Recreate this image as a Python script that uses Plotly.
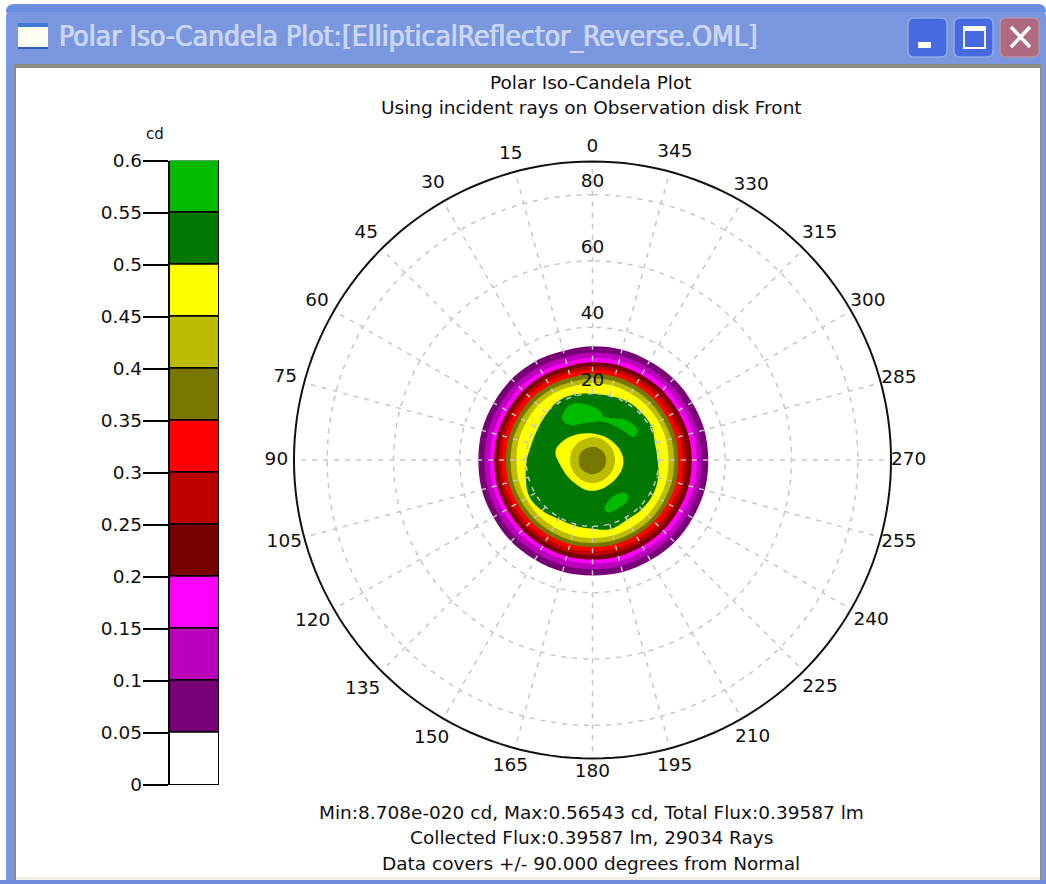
import plotly.graph_objects as go

W, H = 1046, 884

# ---------- data ----------
levels = [0, 0.05, 0.1, 0.15, 0.2, 0.25, 0.3, 0.35, 0.4, 0.45, 0.5, 0.55]
level_top = 0.6
tick_labels = ["0", "0.05", "0.1", "0.15", "0.2", "0.25", "0.3", "0.35", "0.4", "0.45", "0.5", "0.55", "0.6"]
level_colors = ["#ffffff", "#770077", "#bb00bb", "#ff00ff", "#770000", "#bb0000", "#ff0000",
                "#777700", "#bbbb00", "#ffff00", "#007700", "#00bb00"]

ring_theta = [0, 30, 60, 90, 120, 150, 180, 210, 240, 270, 300, 330]
ring_005 = [34.3, 34.4, 34.4, 34.4, 34.5, 34.7, 34.8, 34.9, 34.9, 34.9, 34.7, 34.4]
ring_010 = [32.4, 32.4, 32.5, 32.6, 32.7, 32.8, 32.9, 33.0, 33.0, 32.9, 32.7, 32.5]
ring_015 = [30.8, 30.8, 30.9, 30.9, 31.0, 31.1, 31.2, 31.3, 31.4, 31.4, 31.1, 30.9]
ring_020 = [29.5, 29.5, 29.5, 29.6, 29.7, 29.9, 30.0, 30.0, 30.0, 29.9, 29.7, 29.6]
ring_025 = [28.3, 28.3, 28.3, 28.4, 28.5, 28.6, 28.7, 28.7, 28.6, 28.4, 28.4, 28.3]
ring_030 = [27.2, 27.2, 27.3, 27.4, 27.4, 27.5, 27.5, 27.5, 27.4, 27.2, 27.1, 27.2]
ring_035 = [26.0, 26.0, 26.0, 26.1, 26.1, 26.2, 26.2, 26.2, 26.1, 25.9, 25.9, 26.0]
ring_040 = [24.6, 24.6, 24.6, 24.7, 24.8, 24.9, 25.0, 25.0, 24.8, 24.6, 24.5, 24.6]
ring_045 = [23.2, 23.2, 23.0, 22.9, 23.1, 23.3, 23.5, 23.5, 23.2, 22.9, 23.0, 23.1]

green_theta = [0, 15, 30, 45, 60, 75, 90, 105, 120, 135, 150, 165, 180, 195, 210, 225, 240,
               255, 270, 285, 300, 315, 330, 345]
green_r = [20.0, 20.5, 20.5, 19.6, 19.0, 19.0, 19.8, 20.8, 22.0, 21.5, 20.5, 20.5, 20.7, 21.5,
           20.8, 21.0, 21.0, 20.5, 19.6, 19.5, 20.5, 20.5, 20.5, 20.0]

blob1_theta = [34, 22.7, 9.7, 352, 344.5, 320, 303.5, 299, 319.5, 345, 14.8, 33.3, 36.6]
blob1_r = [16.3, 17.9, 17.2, 15.1, 13.5, 15.7, 16.3, 14.4, 12.5, 11.9, 11.4, 12.6, 14.9]
blob2_theta = [194, 209, 225.3, 221.5, 205.3, 196.3]
blob2_r = [14.9, 12.6, 14.2, 16.0, 16.6, 16.4]

core_yellow_theta = [75, 50.5, 0, 312, 270, 232, 180, 138, 96]
core_yellow_r = [11.5, 10.2, 8.0, 8.2, 9.3, 9.0, 9.3, 8.8, 10.0]
core_mid_theta = [0, 45, 90, 135, 180, 225, 270, 315]
core_mid_r = [6.9, 6.8, 6.8, 6.8, 6.9, 6.8, 6.8, 6.8]
core_olive_r = [4.0, 4.1, 4.2, 4.3, 4.3, 4.2, 4.1, 4.0]

angle_ticks = list(range(0, 360, 15))
angle_label_r = [94.1, 95.3, 96.2, 96.5, 95.9, 95.9, 95.3, 96.2, 97.4, 98.0, 97.0, 95.6,
                 94.1, 95.6, 96.5, 97.0, 97.0, 95.6, 95.3, 95.6, 95.9, 96.8, 95.6, 96.0]
radial_ticks = [20, 40, 60, 80]
radial_labels = ["20", "40", "60", "80"]
radial_label_r = [21, 41, 61, 81]
grid_theta = list(range(0, 361, 2))
spoke_r = [20, 89]
rim_r = 90
axis_range = [0, 100]

window_title = "Polar Iso-Candela Plot:[EllipticalReflector_Reverse.OML]"
plot_title = ["Polar Iso-Candela Plot", "Using incident rays on Observation disk Front"]
footer = ["Min:8.708e-020 cd, Max:0.56543 cd, Total Flux:0.39587 lm",
          "Collected Flux:0.39587 lm, 29034 Rays",
          "Data covers +/- 90.000 degrees from Normal"]

FONT = "DejaVu Sans"
TXT = "#101010"
FS = 18.5


def px(x):
    return x / W


def py(y):
    return 1 - y / H


fig = go.Figure()


def region(theta, r, color):
    fig.add_trace(go.Scatterpolar(theta=list(theta) + list(theta[:2]), r=list(r) + list(r[:2]), mode="lines",
                                  fill="toself", fillcolor=color,
                                  line=dict(width=0, shape="spline", smoothing=1.15),
                                  hoverinfo="skip", showlegend=False))


rings = [ring_005, ring_010, ring_015, ring_020, ring_025, ring_030, ring_035, ring_040, ring_045]
for ring, col in zip(rings, level_colors[1:10]):
    region(ring_theta, ring, col)
region(green_theta, green_r, level_colors[10])
region(blob1_theta, blob1_r, level_colors[11])
region(blob2_theta, blob2_r, level_colors[11])
region(core_yellow_theta, core_yellow_r, level_colors[9])
region(core_mid_theta, core_mid_r, level_colors[8])
region(core_mid_theta, core_olive_r, level_colors[7])

# dashed grid over the fills
GRID = dict(color="#c6c6c6", width=1.5, dash="5px,6px")
for rt in radial_ticks:
    fig.add_trace(go.Scatterpolar(theta=grid_theta, r=[rt] * len(grid_theta), mode="lines", line=GRID,
                                  hoverinfo="skip", showlegend=False))
for a in angle_ticks:
    fig.add_trace(go.Scatterpolar(theta=[a, a], r=spoke_r, mode="lines", line=GRID,
                                  hoverinfo="skip", showlegend=False))
# outer rim
fig.add_trace(go.Scatterpolar(theta=grid_theta, r=[rim_r] * len(grid_theta), mode="lines",
                              line=dict(color="#111111", width=2), hoverinfo="skip", showlegend=False))

fig.add_trace(go.Scatterpolar(theta=[0] * 4, r=radial_label_r, text=radial_labels, mode="text",
                              textposition="top center", textfont=dict(family=FONT, size=FS, color=TXT),
                              hoverinfo="skip", showlegend=False))
fig.add_trace(go.Scatterpolar(theta=angle_ticks, r=angle_label_r, text=[str(a) for a in angle_ticks], mode="text",
                              textposition="middle center", textfont=dict(family=FONT, size=FS, color=TXT),
                              hoverinfo="skip", showlegend=False))

# colour scale
fig.add_trace(go.Bar(x=[0] * len(levels), y=[0.05] * len(levels), base=levels, width=1,
                     marker=dict(color=level_colors, line=dict(color="black", width=1.5)),
                     cliponaxis=False, xaxis="x", yaxis="y", hoverinfo="skip", showlegend=False))


def rrect(x0, y0, x1, y1, r, top_only=False):
    X0, X1 = px(x0), px(x1)
    Y0, Y1 = py(y0), py(y1)
    rx, ry = px(r), r / H
    p = f"M {X0} {Y0 - ry} Q {X0} {Y0} {X0 + rx} {Y0} L {X1 - rx} {Y0} Q {X1} {Y0} {X1} {Y0 - ry} "
    if top_only:
        p += f"L {X1} {Y1} L {X0} {Y1} Z"
    else:
        p += (f"L {X1} {Y1 + ry} Q {X1} {Y1} {X1 - rx} {Y1} L {X0 + rx} {Y1} "
              f"Q {X0} {Y1} {X0} {Y1 + ry} Z")
    return p


shapes = []


def add_path(path, fill, line=None, lw=0):
    shapes.append(dict(type="path", path=path, xref="paper", yref="paper", fillcolor=fill,
                       line=dict(color=line or fill, width=lw), layer="below"))


def add_rect(x0, y0, x1, y1, fill, line=None, lw=0):
    shapes.append(dict(type="rect", xref="paper", yref="paper", x0=px(x0), x1=px(x1), y0=py(y0), y1=py(y1),
                       fillcolor=fill, line=dict(color=line or fill, width=lw), layer="below"))


# window frame
add_path(rrect(6, 4, 1046, 884, 14, top_only=True), "#7a96df")
add_path(rrect(6, 4, 1046, 12, 8, top_only=True), "#6d8ee0")
add_rect(14, 64, 1041, 880, "#8c8c82")
add_rect(16, 68, 1040, 878, "#ffffff")
add_rect(16, 877, 1040, 880, "#f1eee2")
add_rect(0, 880, 1046, 884, "#7189da")
# icon
add_rect(18, 24, 48, 48, "#fffdf2")
add_rect(18, 23, 48, 27, "#3c78d8")
add_rect(18, 47, 48, 49, "#2f5fb8")
# buttons
add_path(rrect(908, 18, 947, 57, 6), "#476ae2", "#8fa9ea", 1.5)
add_path(rrect(954, 18, 993, 57, 6), "#476ae2", "#8fa9ea", 1.5)
add_path(rrect(1000, 18, 1039, 57, 6), "#b06a80", "#b792a8", 1.5)
add_rect(918, 42, 931, 48, "#ffffff")
add_rect(964, 27, 985, 48, "rgba(0,0,0,0)", "#ffffff", 1.8)
add_rect(964, 27, 985, 31, "#ffffff")
shapes.append(dict(type="line", xref="paper", yref="paper", x0=px(1011), x1=px(1030), y0=py(27), y1=py(47),
                   line=dict(color="#ffffff", width=3.5), layer="below"))
shapes.append(dict(type="line", xref="paper", yref="paper", x0=px(1030), x1=px(1011), y0=py(27), y1=py(47),
                   line=dict(color="#ffffff", width=3.5), layer="below"))

annotations = []


def label(x, y, text, size=FS, color=TXT, anchor="center", family=FONT, shadow=None):
    f = dict(family=family, size=size, color=color)
    if shadow:
        f["shadow"] = shadow
    annotations.append(dict(x=px(x), y=py(y), xref="paper", yref="paper", text=text, showarrow=False,
                            xanchor=anchor, yanchor="middle", align="center", font=f))


label(57, 37, window_title, size=28, color="#c9d6f6", anchor="left",
      family="Liberation Sans Narrow, DejaVu Sans Condensed, sans-serif",
      shadow="0.6px 0 0 #c9d6f6, -0.4px 0 0 #c9d6f6")
label(591, 82, plot_title[0])
label(591, 107, plot_title[1])
label(155, 134, "cd", size=15)
label(591, 812, footer[0])
label(591, 837, footer[1])
label(591, 863, footer[2])

fig.update_layout(
    width=W, height=H, autosize=False,
    margin=dict(l=0, r=0, t=0, b=0, pad=0, autoexpand=False),
    paper_bgcolor="white", plot_bgcolor="rgba(0,0,0,0)",
    showlegend=False, bargap=0,
    shapes=shapes, annotations=annotations,
    polar=dict(
        domain=dict(x=[px(260.8), px(924.2)], y=[py(791.7), py(128.3)]),
        bgcolor="rgba(0,0,0,0)",
        angularaxis=dict(rotation=90, direction="counterclockwise", tickmode="array",
                         tickvals=angle_ticks, showticklabels=False,
                         showgrid=False, ticks="", showline=False),
        radialaxis=dict(range=axis_range, visible=False),
    ),
    xaxis=dict(domain=[px(169.5), px(219)], range=[-0.5, 0.5], visible=False, fixedrange=True),
    yaxis=dict(domain=[py(785), py(160.5)], range=[0, level_top], tickmode="array",
               tickvals=levels + [level_top], ticktext=tick_labels, ticks="outside", ticklen=25,
               tickwidth=1.5, tickcolor="black", showgrid=False, zeroline=False,
               showline=True, linecolor="black", linewidth=1.5, ticklabelstandoff=-3,
               tickfont=dict(family=FONT, size=FS, color=TXT), fixedrange=True),
)

fig.write_html("out.html", post_script="document.body.style.margin='0';", config=dict(displayModeBar=False))
